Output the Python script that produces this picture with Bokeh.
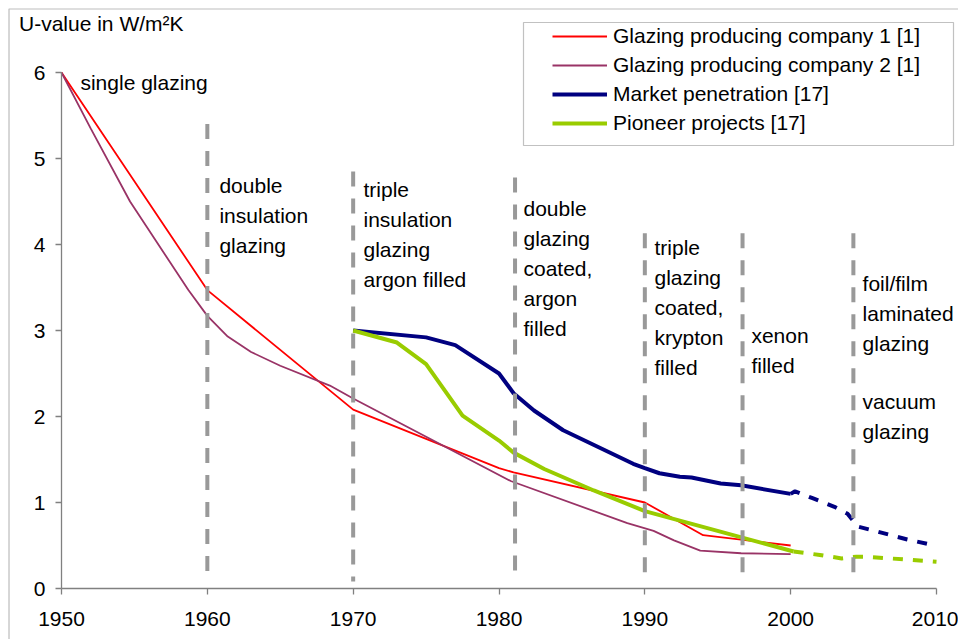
from bokeh.plotting import figure
from bokeh.models import Legend, LegendItem, Label, BoxAnnotation, FixedTicker
from bokeh.embed import file_html
from bokeh.resources import INLINE
from bokeh.core.properties import value

# ---------------- data ----------------
years_c1 = [1950, 1960, 1970, 1980, 1981, 1990, 1994, 2000]
u_c1 = [6.0, 3.47, 2.08, 1.40, 1.35, 1.00, 0.62, 0.50]

years_c2 = [1950, 1952, 1954.7, 1958.7, 1960, 1961.4, 1963, 1965, 1968.4, 1970,
            1980.8, 1988.8, 1990.6, 1992, 1993.8, 1996.6, 2000]
u_c2 = [6.0, 5.35, 4.5, 3.47, 3.17, 2.93, 2.75, 2.59, 2.36, 2.21,
        1.25, 0.76, 0.67, 0.56, 0.44, 0.41, 0.40]

years_mkt = [1970, 1975, 1977, 1980, 1981, 1982.4, 1984.4, 1989.2, 1990, 1991,
             1992.4, 1993.2, 1995.2, 1996.6, 2000]
u_mkt = [3.0, 2.92, 2.83, 2.5, 2.27, 2.07, 1.84, 1.45, 1.40, 1.34,
         1.30, 1.29, 1.22, 1.20, 1.10]
years_mkt_fc = [2000, 2000.3, 2001.5, 2003, 2003.9, 2004.6, 2006, 2008, 2009.6]
u_mkt_fc = [1.10, 1.13, 1.05, 0.95, 0.87, 0.72, 0.66, 0.57, 0.51]

years_pio = [1970, 1973, 1975, 1977.5, 1980, 1981, 1983.1, 1986.5, 1990, 2000.2]
u_pio = [3.0, 2.86, 2.61, 2.01, 1.72, 1.58, 1.39, 1.14, 0.90, 0.43]
years_pio_fc = [2000.2, 2002, 2003.5, 2004.5, 2005.2, 2010]
u_pio_fc = [0.43, 0.39, 0.35, 0.37, 0.37, 0.31]

series_names = ["Glazing producing company 1 [1]", "Glazing producing company 2 [1]",
                "Market penetration [17]", "Pioneer projects [17]"]

divider_years = [1960, 1970, 1981.1, 1990, 1996.7, 2004.3]
divider_tops = [5.40, 4.85, 4.78, 4.13, 4.13, 4.13]

era_texts = [["single glazing"],
             ["double", "insulation", "glazing"],
             ["triple", "insulation", "glazing", "argon filled"],
             ["double", "glazing", "coated,", "argon", "filled"],
             ["triple", "glazing", "coated,", "krypton", "filled"],
             ["xenon", "filled"],
             ["foil/film", "laminated", "glazing"],
             ["vacuum", "glazing"]]

x_ticks = [1950, 1960, 1970, 1980, 1990, 2000, 2010]
y_ticks = [0, 1, 2, 3, 4, 5, 6]
y_title = "U-value in W/m\u00b2K"

# ---------------- layout / style ----------------
W, H = 958, 639
FONT = "Liberation Sans"
FS = "21px"
X0, X1, Y0, Y1 = 1950, 2010, 0, 6
LEFT_PX, RIGHT_PX, TOP_PX, BOT_PX = 61, 936, 72, 588     # axis box in canvas pixels
kx = (RIGHT_PX - LEFT_PX) / (X1 - X0)
ky = (BOT_PX - TOP_PX) / (Y1 - Y0)
x_range = (X0 - LEFT_PX / kx, X0 + (W - LEFT_PX) / kx)
y_range = (Y0 - (H - BOT_PX) / ky, Y1 + TOP_PX / ky)

era_x = [1951.3, 1960.83, 1970.71, 1981.68, 1990.66, 1997.31, 2004.93, 2004.93]
era_y = [5.884, 4.686, 4.640, 4.419, 3.965, 2.942, 3.547, 2.174]
line_step = 30 / ky

p = figure(width=W, height=H, x_range=x_range, y_range=y_range,
           output_backend="svg", toolbar_location=None,
           min_border=0, min_border_left=0, min_border_right=0,
           min_border_top=0, min_border_bottom=0)
p.outline_line_color = None
p.xgrid.visible = False
p.ygrid.visible = False
p.background_fill_color = "white"
p.border_fill_color = "white"

for ax in (p.xaxis[0], p.yaxis[0]):
    ax.axis_line_color = "#808080"
    ax.axis_line_width = 1.3
    ax.major_tick_line_color = "#808080"
    ax.major_tick_line_width = 1.3
    ax.major_tick_out = 6
    ax.major_tick_in = 0
    ax.minor_tick_out = 0
    ax.minor_tick_in = 0
    ax.major_label_text_font = FONT
    ax.major_label_text_font_size = FS
    ax.major_label_text_color = "black"
p.xaxis.ticker = FixedTicker(ticks=x_ticks)
p.yaxis.ticker = FixedTicker(ticks=y_ticks)
p.xaxis.fixed_location = Y0
p.yaxis.fixed_location = X0
p.xaxis.bounds = (X0, X1)
p.yaxis.bounds = (Y0, Y1)
p.xaxis.major_label_standoff = 17
p.yaxis.major_label_standoff = 10

r1 = p.line(years_c1, u_c1, line_color="#FF0000", line_width=1.8)
r2 = p.line(years_c2, u_c2, line_color="#993366", line_width=1.8)
r3 = p.line(years_mkt, u_mkt, line_color="#000080", line_width=4)
r4 = p.line(years_pio, u_pio, line_color="#99CC00", line_width=4)
p.line(years_mkt_fc, u_mkt_fc, line_color="#000080", line_width=4, line_dash="10 10")
p.line(years_pio_fc, u_pio_fc, line_color="#99CC00", line_width=4, line_dash="10 10")

p.segment(x0=divider_years, y0=divider_tops, x1=divider_years, y1=[0.08] * len(divider_years),
          line_color="#999999", line_width=4, line_dash="15 12")

tx, ty, tt = [], [], []
for lines, x0, y0 in zip(era_texts, era_x, era_y):
    for i, t in enumerate(lines):
        tx.append(x0)
        ty.append(y0 - i * line_step)
        tt.append(t)
p.text(x=tx, y=ty, text=tt, text_font=value(FONT), text_font_size=FS,
       text_baseline="middle", text_align="left", text_color="black")

p.add_layout(Label(x=18.5, y=H - 22.5, x_units="screen", y_units="screen", text=y_title,
                   text_font=FONT, text_font_size=FS, text_baseline="middle", text_align="left",
                   text_color="black"))

# legend frame
p.add_layout(BoxAnnotation(left=523, right=953, top=H - 22, bottom=H - 145,
                           left_units="screen", right_units="screen",
                           top_units="screen", bottom_units="screen",
                           fill_color="white", fill_alpha=1.0,
                           line_color="#333333", line_width=1.2))
# outer frame (left and top edges)
p.add_layout(BoxAnnotation(left=8.5, right=3000, top=H - 8.5, bottom=-3000,
                           left_units="screen", right_units="screen",
                           top_units="screen", bottom_units="screen",
                           fill_alpha=0, line_color="#222222", line_width=1.2))

legend = Legend(items=[LegendItem(label=n, renderers=[r]) for n, r in zip(series_names, [r1, r2, r3, r4])],
                location=(552, H - 135), padding=5, margin=0, spacing=5,
                glyph_width=55, glyph_height=20, label_height=20, label_standoff=6,
                label_text_font=FONT, label_text_font_size=FS, label_text_color="black",
                border_line_color=None, background_fill_alpha=0)
p.add_layout(legend, "center")

open("out.html", "w").write(file_html(p, INLINE))
